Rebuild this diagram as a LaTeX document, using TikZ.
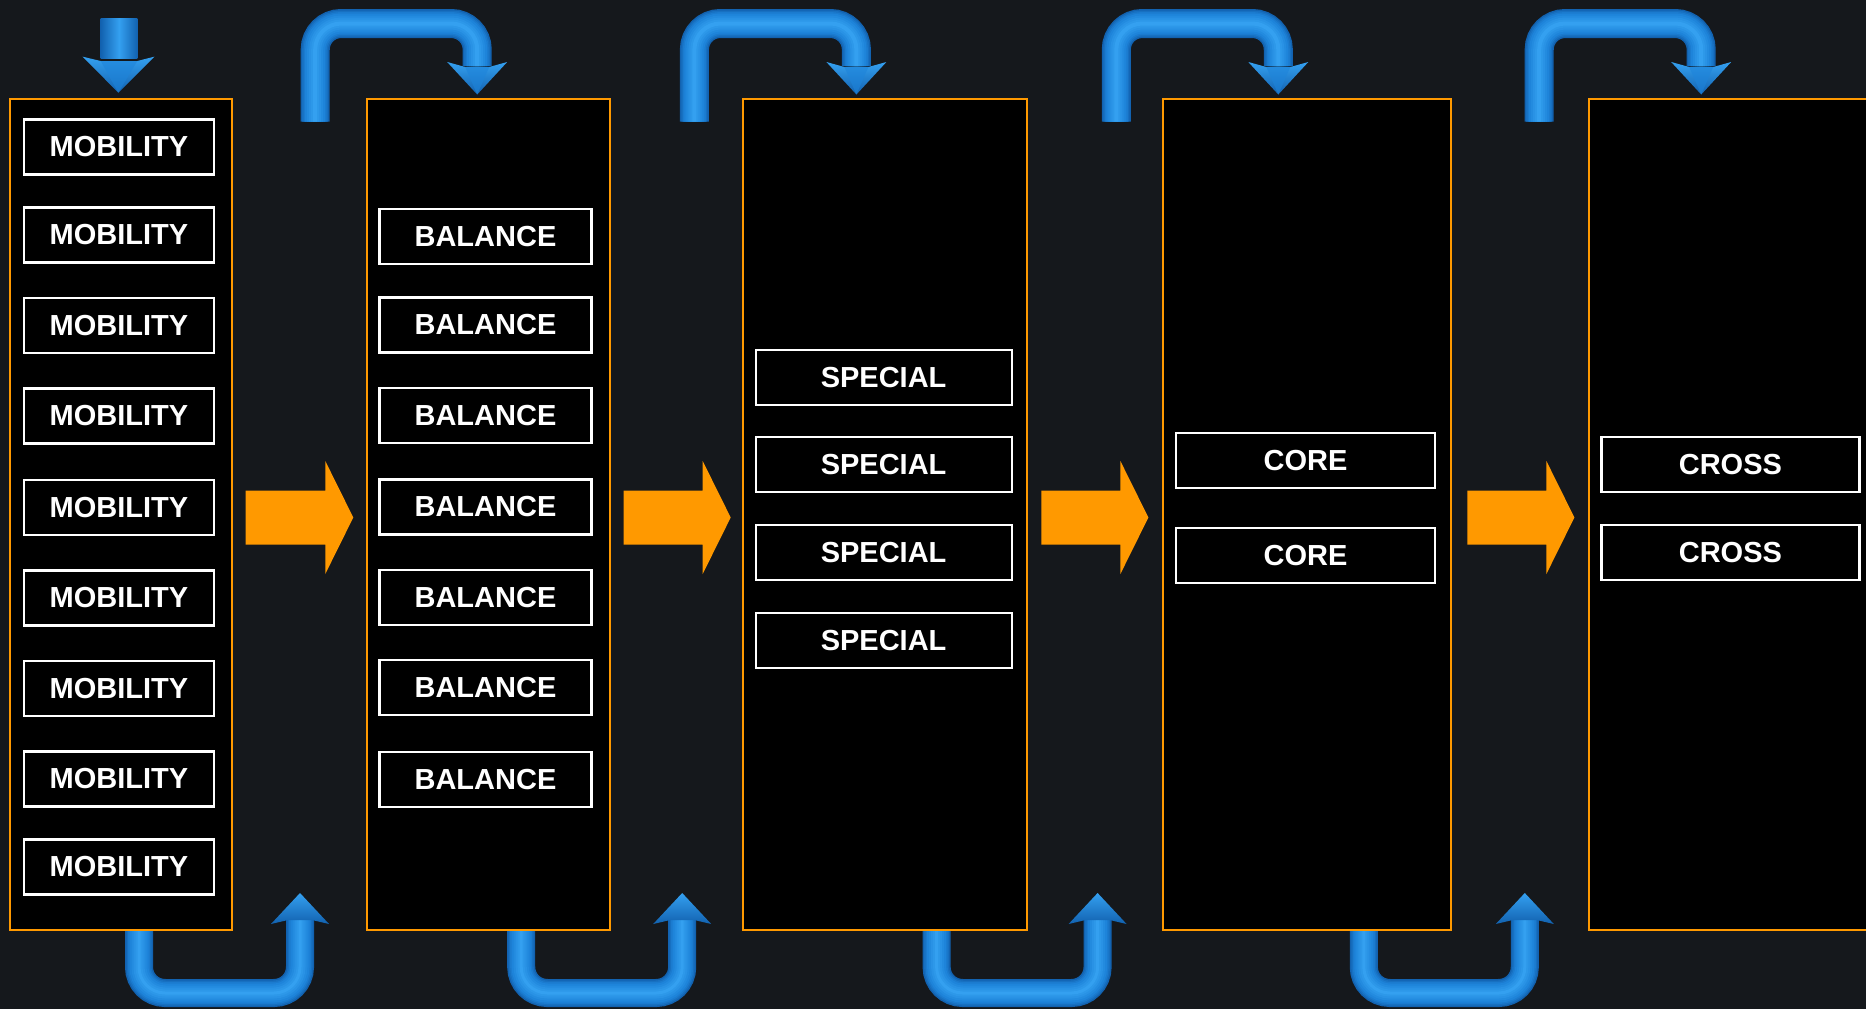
\documentclass[tikz,border=0pt]{standalone}
\usepackage{fontspec}
\setmainfont{Liberation Sans}
\definecolor{bg}{HTML}{15181C}
\definecolor{org}{HTML}{FF9900}
\definecolor{bd}{HTML}{1262B0}
\definecolor{bm}{HTML}{1E84DA}
\definecolor{bl}{HTML}{34A0F0}
\begin{document}
\begin{tikzpicture}[x=1pt,y=-1pt,
  col/.style={draw=org, fill=black, line width=2pt, inner sep=0pt, minimum height=831.5pt},
  lbl/.style={draw=white, fill=black, line width=2.2pt, text=white,
    font=\fontsize{29}{29}\selectfont\bfseries, minimum height=55pt, inner sep=0pt},
  tube/.style={line width=#1pt, rounded corners=26pt},
  orgarrow/.style={fill=org},
]
\useasboundingbox (0,0) rectangle (1866,1009);
\fill[bg] (0,0) rectangle (1866,1009);
\clip (0,0) rectangle (1866,1009);

% ---- blue tube connectors (drawn first, columns cover their ends)
\foreach \xl in {315.2, 694.4, 1116.3, 1539.2}{
  \pgfmathsetmacro{\xr}{\xl+162}
  \foreach \w/\c in {29/bd, 26/bd!60!bm, 23/bd!25!bm, 20/bm, 16/bm!75!bl, 12/bm!50!bl, 8/bm!30!bl, 4/bl}{
    \draw[tube=\w, draw=\c] (\xl,121.7) -- (\xl,23.5) -- (\xr,23.5) -- (\xr,66);
  }
  \shade[top color=bl, bottom color=bd] (\xr-30,62) -- (\xr-12,67) -- (\xr+12,67) -- (\xr+30,62) -- (\xr,94.5) -- cycle;
  \fill[bm,opacity=0.6] (\xr-12,67) -- (\xr+12,67) -- (\xr,94.5) -- cycle;
}
\foreach \xl in {139, 521.2, 936.6, 1363.8}{
  \pgfmathsetmacro{\xr}{\xl+161}
  \foreach \w/\c in {28/bd, 25/bd!60!bm, 22/bd!25!bm, 19/bm, 15/bm!75!bl, 11/bm!50!bl, 7/bm!30!bl, 3/bl}{
    \draw[tube=\w, draw=\c] (\xl,925) -- (\xl,993) -- (\xr,993) -- (\xr,920);
  }
  \shade[top color=bl, bottom color=bd] (\xr-29,924) -- (\xr-12,920) -- (\xr+12,920) -- (\xr+29,924) -- (\xr,893) -- cycle;
}
% entry arrow
\shade[left color=bd, right color=bd, middle color=bl] (100.7,18) rectangle (137.3,58);
\shade[top color=bl, bottom color=bd] (82.7,56.7) -- (100.7,61) -- (137.3,61) -- (154.3,56.7) -- (118.3,92.7) -- cycle;
\fill[bm,opacity=0.6] (100.7,61) -- (137.3,61) -- (118.3,92.7) -- cycle;

% ---- columns
\node[col, minimum width=221.5pt] (c1) at (120.75,514.25) {};
\node[col, minimum width=242.8pt] (c2) at (488.1,514.25) {};
\node[col, minimum width=284.4pt] (c3) at (884.8,514.25) {};
\node[col, minimum width=288pt]   (c4) at (1306.7,514.25) {};
\node[col, minimum width=291pt]   (c5) at (1734.5,514.25) {};

% ---- orange arrows
\foreach \a/\b in {245.5/353.3, 623.6/730.7, 1041.3/1148.4, 1467.3/1574.4}{
  \fill[orgarrow] (\a,490.5) -- (\b-28,490.5) -- (\b-28,461) -- (\b,517.5)
     -- (\b-28,574) -- (\b-28,544.5) -- (\a,544.5) -- cycle;
}

% ---- labels
\foreach \y [count=\i] in {147, 235, 325.5, 415.9, 507.5, 598, 688.4, 778.9, 866.9}
  \node[lbl, minimum width=190pt] (m\i) at (119,\y) {MOBILITY};
\foreach \y [count=\i] in {236.8, 324.9, 415.3, 507, 597.4, 687.8, 779.5}
  \node[lbl, minimum width=212pt] (b\i) at (485.5,\y) {BALANCE};
\foreach \y [count=\i] in {377.2, 464.1, 552.2, 640.2}
  \node[lbl, minimum width=256pt] (s\i) at (883.6,\y) {SPECIAL};
\foreach \y [count=\i] in {460.5, 555.8}
  \node[lbl, minimum width=259pt] (k\i) at (1305.5,\y) {CORE};
\foreach \y [count=\i] in {464.3, 552.2}
  \node[lbl, minimum width=258pt] (x\i) at (1730.4,\y) {CROSS};
\end{tikzpicture}
\end{document}
